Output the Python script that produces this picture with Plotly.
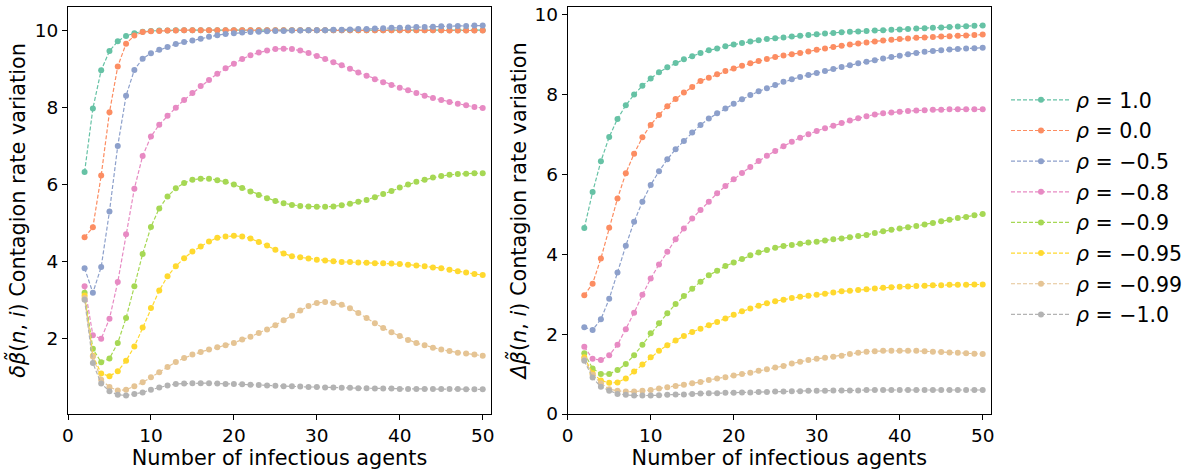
import plotly.graph_objects as go

# ---------------- data ----------------
n_agents = list(range(2, 51))

rho_labels = ["<i>ρ</i> = 1.0", "<i>ρ</i> = 0.0", "<i>ρ</i> = −0.5", "<i>ρ</i> = −0.8",
              "<i>ρ</i> = −0.9", "<i>ρ</i> = −0.95", "<i>ρ</i> = −0.99", "<i>ρ</i> = −1.0"]
colors = ["#66c2a5", "#fc8d62", "#8da0cb", "#e78ac3", "#a6d854", "#ffd92f", "#e5c494", "#b3b3b3"]

# left panel: delta beta
left_rho_1 = [6.32, 7.97, 8.96, 9.46, 9.71, 9.85, 9.92, 9.96, 9.98, 9.99,
              9.99, 10.0, 10.0, 10.0, 10.0, 10.0, 10.0, 10.0, 10.0, 10.0,
              10.0, 10.0, 10.0, 10.0, 10.0, 10.0, 10.0, 10.0, 10.0, 10.0,
              10.0, 10.0, 10.0, 10.0, 10.0, 10.0, 10.0, 10.0, 10.0, 10.0,
              10.0, 10.0, 10.0, 10.0, 10.0, 10.0, 10.0, 10.0, 10.0]
left_rho_0 = [4.63, 4.89, 6.23, 7.87, 9.06, 9.65, 9.86, 9.95, 9.97, 9.98,
              9.99, 9.99, 10.0, 10.0, 10.0, 10.0, 10.0, 10.0, 10.0, 10.0,
              10.0, 10.0, 10.0, 10.0, 10.0, 10.0, 10.0, 10.0, 10.0, 10.0,
              10.0, 10.0, 10.0, 10.0, 10.0, 10.0, 10.0, 10.0, 10.0, 10.0,
              10.0, 10.0, 10.0, 10.0, 9.99, 9.99, 9.99, 9.99, 9.99]
left_rho_m05 = [3.83, 3.19, 3.86, 5.30, 7.00, 8.30, 8.97, 9.26, 9.40, 9.49,
                9.56, 9.64, 9.69, 9.73, 9.78, 9.83, 9.87, 9.90, 9.92, 9.94,
                9.95, 9.96, 9.97, 9.98, 9.98, 9.99, 9.99, 10.0, 10.0, 10.0,
                10.01, 10.01, 10.02, 10.03, 10.03, 10.04, 10.05, 10.06, 10.06, 10.07,
                10.08, 10.08, 10.09, 10.10, 10.10, 10.11, 10.11, 10.12, 10.12]
left_rho_m08 = [3.36, 2.09, 2.00, 2.52, 3.47, 4.71, 5.89, 6.74, 7.24, 7.55,
                7.78, 7.99, 8.19, 8.37, 8.55, 8.71, 8.87, 9.01, 9.13, 9.25,
                9.35, 9.42, 9.47, 9.51, 9.52, 9.51, 9.47, 9.41, 9.33, 9.25,
                9.17, 9.09, 9.00, 8.90, 8.82, 8.73, 8.65, 8.58, 8.51, 8.44,
                8.37, 8.30, 8.24, 8.19, 8.14, 8.09, 8.05, 8.01, 7.98]
left_rho_m09 = [3.19, 1.74, 1.39, 1.49, 1.89, 2.54, 3.36, 4.20, 4.90, 5.38,
                5.69, 5.90, 6.04, 6.12, 6.15, 6.15, 6.11, 6.07, 6.00, 5.91,
                5.82, 5.73, 5.64, 5.57, 5.51, 5.47, 5.44, 5.43, 5.42, 5.42,
                5.43, 5.46, 5.50, 5.55, 5.60, 5.67, 5.75, 5.83, 5.92, 6.00,
                6.07, 6.12, 6.18, 6.22, 6.25, 6.27, 6.28, 6.29, 6.29]
left_rho_m095 = [3.12, 1.56, 1.10, 1.03, 1.16, 1.43, 1.80, 2.29, 2.80, 3.25,
                 3.62, 3.88, 4.09, 4.26, 4.39, 4.52, 4.62, 4.65, 4.67, 4.65,
                 4.60, 4.51, 4.42, 4.31, 4.21, 4.14, 4.11, 4.08, 4.05, 4.03,
                 4.01, 3.99, 3.99, 3.98, 3.97, 3.96, 3.96, 3.95, 3.94, 3.92,
                 3.90, 3.88, 3.85, 3.83, 3.79, 3.75, 3.72, 3.68, 3.65]
left_rho_m099 = [3.06, 1.54, 0.94, 0.75, 0.66, 0.68, 0.77, 0.87, 1.00, 1.13,
                 1.27, 1.40, 1.50, 1.59, 1.66, 1.72, 1.78, 1.83, 1.89, 1.98,
                 2.05, 2.15, 2.24, 2.35, 2.48, 2.60, 2.73, 2.85, 2.93, 2.95,
                 2.93, 2.88, 2.79, 2.67, 2.54, 2.40, 2.28, 2.17, 2.07, 1.97,
                 1.89, 1.83, 1.77, 1.72, 1.68, 1.64, 1.62, 1.59, 1.56]
left_rho_m1 = [3.01, 1.37, 0.84, 0.64, 0.55, 0.53, 0.57, 0.61, 0.68, 0.74,
               0.79, 0.83, 0.84, 0.85, 0.85, 0.85, 0.84, 0.83, 0.83, 0.82,
               0.81, 0.80, 0.79, 0.78, 0.77, 0.77, 0.76, 0.75, 0.75, 0.74,
               0.74, 0.73, 0.73, 0.72, 0.72, 0.71, 0.71, 0.71, 0.70, 0.70,
               0.70, 0.70, 0.70, 0.70, 0.70, 0.70, 0.69, 0.69, 0.69]

# right panel: Delta beta
right_rho_1 = [4.65, 5.55, 6.32, 6.93, 7.38, 7.72, 7.99, 8.21, 8.39, 8.55,
               8.67, 8.78, 8.87, 8.95, 9.03, 9.10, 9.14, 9.20, 9.24, 9.28,
               9.32, 9.35, 9.38, 9.40, 9.42, 9.44, 9.46, 9.48, 9.50, 9.52,
               9.53, 9.55, 9.56, 9.57, 9.58, 9.59, 9.60, 9.61, 9.62, 9.63,
               9.64, 9.65, 9.66, 9.67, 9.68, 9.69, 9.70, 9.71, 9.72]
right_rho_0 = [2.97, 3.26, 3.89, 4.66, 5.39, 6.02, 6.51, 6.92, 7.23, 7.48,
               7.70, 7.88, 8.04, 8.18, 8.33, 8.41, 8.50, 8.58, 8.64, 8.71,
               8.77, 8.83, 8.88, 8.93, 8.97, 9.00, 9.03, 9.07, 9.11, 9.14,
               9.18, 9.21, 9.24, 9.27, 9.29, 9.32, 9.34, 9.36, 9.38, 9.39,
               9.41, 9.42, 9.43, 9.44, 9.45, 9.46, 9.47, 9.48, 9.49]
right_rho_m05 = [2.17, 2.10, 2.37, 2.88, 3.54, 4.21, 4.81, 5.31, 5.73, 6.07,
                 6.37, 6.62, 6.83, 7.04, 7.23, 7.39, 7.52, 7.64, 7.76, 7.87,
                 7.98, 8.07, 8.15, 8.23, 8.31, 8.37, 8.43, 8.48, 8.53, 8.58,
                 8.63, 8.68, 8.72, 8.77, 8.81, 8.85, 8.89, 8.93, 8.96, 9.00,
                 9.03, 9.06, 9.08, 9.10, 9.12, 9.13, 9.14, 9.15, 9.16]
right_rho_m08 = [1.68, 1.38, 1.35, 1.47, 1.73, 2.12, 2.53, 2.98, 3.39, 3.74,
                 4.06, 4.37, 4.64, 4.89, 5.10, 5.31, 5.52, 5.70, 5.87, 6.03,
                 6.18, 6.33, 6.46, 6.58, 6.70, 6.81, 6.91, 7.00, 7.08, 7.15,
                 7.21, 7.28, 7.34, 7.40, 7.45, 7.49, 7.52, 7.54, 7.56, 7.58,
                 7.59, 7.60, 7.61, 7.61, 7.62, 7.62, 7.62, 7.62, 7.62]
right_rho_m09 = [1.52, 1.14, 1.00, 1.00, 1.10, 1.25, 1.47, 1.73, 2.02, 2.27,
                 2.52, 2.75, 2.95, 3.13, 3.31, 3.47, 3.58, 3.70, 3.79, 3.88,
                 3.97, 4.04, 4.10, 4.16, 4.20, 4.23, 4.26, 4.29, 4.31, 4.34,
                 4.37, 4.39, 4.42, 4.45, 4.48, 4.53, 4.57, 4.61, 4.64, 4.67,
                 4.70, 4.74, 4.78, 4.82, 4.86, 4.90, 4.93, 4.97, 5.00]
right_rho_m095 = [1.42, 1.02, 0.84, 0.78, 0.79, 0.89, 1.06, 1.24, 1.42, 1.58,
                  1.72, 1.84, 1.95, 2.05, 2.13, 2.22, 2.30, 2.39, 2.48, 2.57,
                  2.64, 2.71, 2.77, 2.82, 2.86, 2.90, 2.93, 2.96, 2.98, 3.01,
                  3.04, 3.07, 3.08, 3.10, 3.12, 3.14, 3.16, 3.17, 3.18, 3.19,
                  3.20, 3.21, 3.22, 3.22, 3.23, 3.23, 3.23, 3.24, 3.24]
right_rho_m099 = [1.37, 0.98, 0.77, 0.62, 0.58, 0.56, 0.56, 0.58, 0.60, 0.64,
                  0.67, 0.70, 0.73, 0.77, 0.80, 0.85, 0.89, 0.92, 0.96, 1.00,
                  1.03, 1.08, 1.12, 1.16, 1.20, 1.26, 1.31, 1.35, 1.38, 1.41,
                  1.43, 1.46, 1.50, 1.53, 1.56, 1.57, 1.58, 1.58, 1.58, 1.58,
                  1.58, 1.57, 1.56, 1.55, 1.54, 1.53, 1.52, 1.51, 1.50]
right_rho_m1 = [1.33, 0.91, 0.68, 0.58, 0.50, 0.48, 0.46, 0.46, 0.46, 0.47,
                0.48, 0.49, 0.49, 0.50, 0.51, 0.52, 0.52, 0.53, 0.53, 0.54,
                0.54, 0.55, 0.55, 0.56, 0.56, 0.57, 0.57, 0.58, 0.58, 0.58,
                0.59, 0.59, 0.59, 0.59, 0.60, 0.60, 0.60, 0.60, 0.60, 0.60,
                0.60, 0.60, 0.60, 0.60, 0.60, 0.60, 0.60, 0.60, 0.60]

left_series = [left_rho_1, left_rho_0, left_rho_m05, left_rho_m08,
               left_rho_m09, left_rho_m095, left_rho_m099, left_rho_m1]
right_series = [right_rho_1, right_rho_0, right_rho_m05, right_rho_m08,
                right_rho_m09, right_rho_m095, right_rho_m099, right_rho_m1]

for s in left_series + right_series:
    assert len(s) == len(n_agents), len(s)

# ---------------- figure ----------------
FONT = "DejaVu Sans, Verdana, sans-serif"
TICK_SIZE = 18.5
LABEL_SIZE = 20.8
LEGEND_SIZE = 20.5
W, H = 1199, 476
ML, MR, MT, MB = 68, 208, 7, 62
plot_w = W - ML - MR
plot_h = H - MT - MB

fig = go.Figure()
for i, (lab, col) in enumerate(zip(rho_labels, colors)):
    common = dict(mode="lines+markers",
                  line=dict(color=col, width=1.2, dash="4px,2px"),
                  marker=dict(color=col, size=6, line=dict(width=0)),
                  name=lab, legendgroup=f"g{i}")
    fig.add_trace(go.Scatter(x=n_agents, y=left_series[i], xaxis="x", yaxis="y",
                             showlegend=True, **common))
    fig.add_trace(go.Scatter(x=n_agents, y=right_series[i], xaxis="x2", yaxis="y2",
                             showlegend=False, **common))

axis_common = dict(showline=True, mirror=True, linecolor="black", linewidth=1.1,
                   ticks="outside", ticklen=5, tickwidth=1.1, tickcolor="black",
                   showgrid=False, zeroline=False,
                   tickfont=dict(family=FONT, size=TICK_SIZE, color="black"))

left_dom = [0, (491 - ML) / plot_w]
right_dom = [(567.7 - ML) / plot_w, (991 - ML) / plot_w]
title_font = dict(family=FONT, size=LABEL_SIZE, color="black")

fig.update_layout(
    width=W, height=H,
    margin=dict(l=ML, r=MR, t=MT, b=MB, autoexpand=False),
    paper_bgcolor="white", plot_bgcolor="white",
    font=dict(family=FONT, size=TICK_SIZE, color="black"),
    xaxis=dict(domain=left_dom, range=[0, 51], tickvals=[0, 10, 20, 30, 40, 50],
               title=dict(text="Number of infectious agents", standoff=2, font=title_font),
               anchor="y", **axis_common),
    yaxis=dict(domain=[0, 1], range=[0.05, 10.6], tickvals=[2, 4, 6, 8, 10],
               title=dict(text="<i>δβ̃</i>(<i>n</i>, <i>i</i>) Contagion rate variation",
                          standoff=3, font=title_font),
               anchor="x", **axis_common),
    xaxis2=dict(domain=right_dom, range=[0, 51], tickvals=[0, 10, 20, 30, 40, 50],
                title=dict(text="Number of infectious agents", standoff=2, font=title_font),
                anchor="y2", **axis_common),
    yaxis2=dict(domain=[0, 1], range=[0, 10.18], tickvals=[0, 2, 4, 6, 8, 10],
                title=dict(text="<i>Δβ̃</i>(<i>n</i>, <i>i</i>) Contagion rate variation",
                           standoff=2, font=title_font),
                anchor="x2", **axis_common),
    legend=dict(x=(1006 - ML) / plot_w, xanchor="left",
                y=1 - (80 - MT) / plot_h, yanchor="top",
                font=dict(family=FONT, size=LEGEND_SIZE, color="black"),
                bgcolor="rgba(0,0,0,0)", borderwidth=0,
                tracegroupgap=1, itemwidth=60, traceorder="grouped"),
)

fig.write_html("out.html", config={"displayModeBar": False},
               post_script="document.body.style.margin='0';")
